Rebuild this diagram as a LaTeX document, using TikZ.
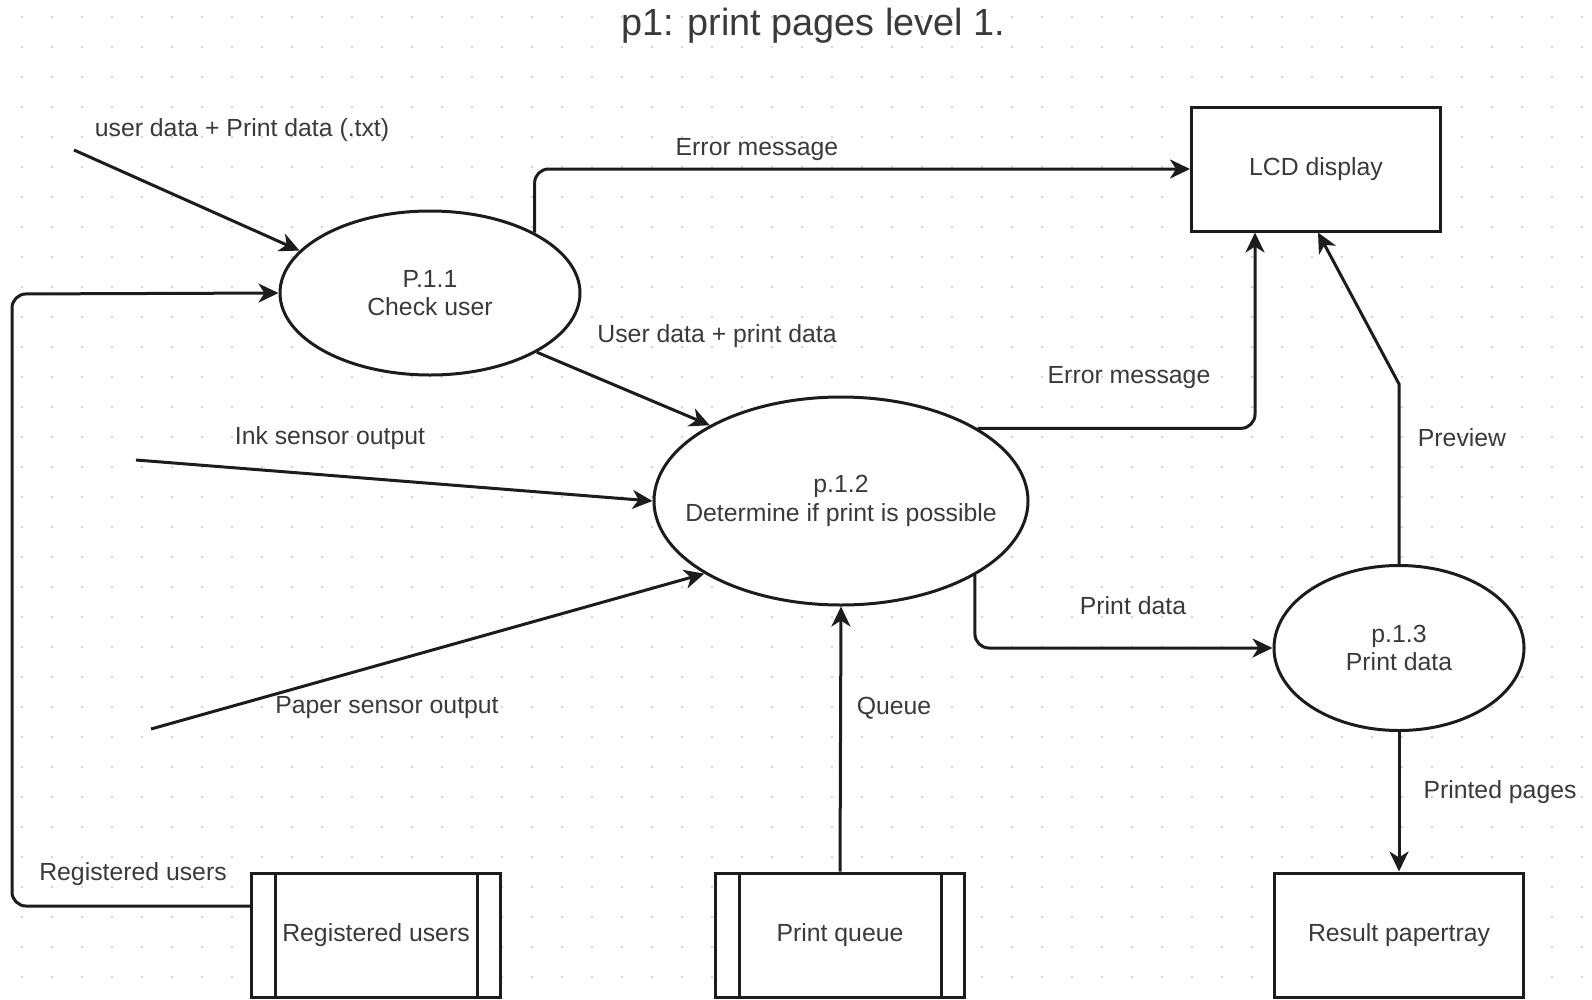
\documentclass[tikz,border=0pt]{standalone}
\usepackage{fontspec}
\setmainfont{Liberation Sans}
\usetikzlibrary{arrows.meta,shapes.geometric}

\definecolor{linec}{HTML}{1C1C1C}
\definecolor{textc}{HTML}{3A3A3A}
\definecolor{dotc}{HTML}{D2D2D2}

\tikzset{
  lblfont/.style={font=\fontsize{24.8}{28.5}\selectfont},
  proc/.style={ellipse, draw=linec, line width=3pt, fill=white, inner xsep=-30pt,
    inner ysep=0pt, align=center, text=textc, lblfont},
  ent/.style={rectangle, draw=linec, line width=3pt, fill=white,
    minimum width=249pt, minimum height=124pt, inner sep=0pt, text=textc, lblfont},
  flow/.style={draw=linec, line width=3pt, rounded corners=14pt,
    -{Stealth[length=20pt,width=19pt,inset=6pt]}},
  lbl/.style={text=textc, inner sep=0pt, lblfont},
}

\begin{document}
\begin{tikzpicture}[x=1pt,y=-1pt]
  \useasboundingbox (0,0) rectangle (1592,999);
  % dotted grid
  \foreach \gx in {22,52,...,1592}
    \foreach \gy in {17,47,...,999}
      \fill[dotc] (\gx,\gy) circle (1.3);

  \node[text=textc, font=\fontsize{37.8}{42}\selectfont] (title) at (813,26) {p1: print pages level 1.};

  % processes
  \node[proc, minimum width=300pt, minimum height=164pt] (p11) at (430,293) {P.1.1\\Check user};
  \node[proc, minimum width=374pt, minimum height=208pt] (p12) at (841,501) {p.1.2\\Determine if print is possible};
  \node[proc, minimum width=250pt, minimum height=165pt] (p13) at (1399,648) {p.1.3\\Print data};

  % entities
  \node[ent] (lcd) at (1316,169) {LCD display};
  \node[ent] (result) at (1399,935) {Result papertray};

  % data stores
  \node[ent] (reg) at (376,935) {Registered users};
  \node[ent] (queue) at (840,935) {Print queue};
  \foreach \st in {reg,queue} {
    \draw[linec, line width=3pt] ([xshift=25pt]\st.north west) -- ([xshift=25pt]\st.south west);
    \draw[linec, line width=3pt] ([xshift=-25pt]\st.north east) -- ([xshift=-25pt]\st.south east);
  }

  % free ends
  \coordinate (userin) at (74,150);
  \coordinate (inkin) at (136,460);
  \coordinate (paperin) at (151,729);

  % flows
  \draw[flow] (userin) -- (p11.162);
  \draw[flow] ([yshift=29pt]reg.west) -| (12,294) -- (p11.west);
  \draw[flow] (p11.30.6) |- (lcd.west);
  \draw[flow] (p11.-29.7) -- (p12.150.9);
  \draw[flow] (inkin) -- (p12.west);
  \draw[flow] (paperin) -- (p12.208.4);
  \draw[flow] (queue.north) -- (p12.south);
  \draw[flow] (p12.28.6) -| ([xshift=-61pt]lcd.south);
  \draw[flow] (p12.-29.1) |- (p13.west);
  \draw[flow, rounded corners=0pt] (p13.north) -- ++(0,-180) -- ([xshift=2pt]lcd.south);
  \draw[flow] (p13.south) -- (result.north);

  % flow labels
  \node[lbl] (luser) at (242,130) {user data + Print data (.txt)};
  \node[lbl] (lreg) at (133,874) {Registered users};
  \node[lbl] (lerr1) at (757,150) {Error message};
  \node[lbl] (lud) at (717,336) {User data + print data};
  \node[lbl] (link) at (330,438) {Ink sensor output};
  \node[lbl] (lpaper) at (387,708) {Paper sensor output};
  \node[lbl] (lqueue) at (894,708) {Queue};
  \node[lbl] (lerr2) at (1129,378) {Error message};
  \node[lbl] (lpd) at (1133,606) {Print data};
  \node[lbl] (lprev) at (1462,438) {Preview};
  \node[lbl] (lpp) at (1500,792) {Printed pages};
\end{tikzpicture}
\end{document}
